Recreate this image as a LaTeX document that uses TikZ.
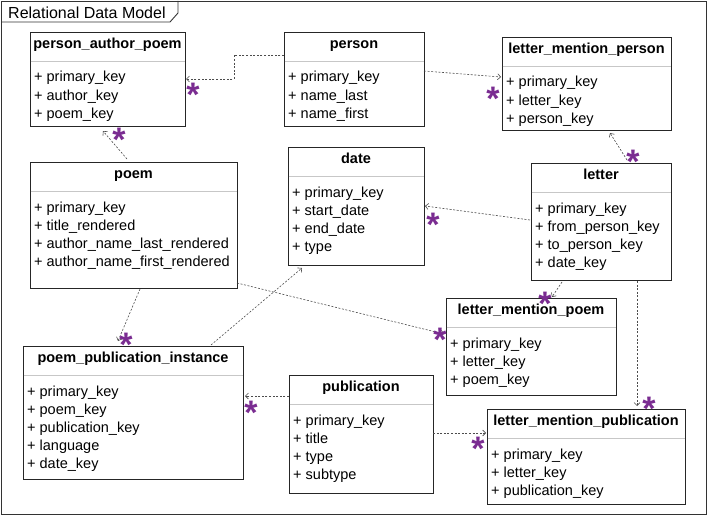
\documentclass[tikz,border=0pt]{standalone}
\usepackage{fontspec}
\setmainfont{Liberation Sans}
\usetikzlibrary{calc,arrows.meta}
\definecolor{starcol}{RGB}{122,44,145}
\tikzset{
 classbox/.style={draw=black!85, line width=0.9pt, fill=white, rectangle, inner sep=0pt, outer sep=0pt, anchor=north west},
 sepline/.style={draw=black!22, line width=0.9pt},
 classtitle/.style={font=\fontsize{14.5}{17}\selectfont\bfseries, anchor=base, inner sep=0pt},
 attr/.style={font=\fontsize{14.5}{17}\selectfont, anchor=base west, inner sep=0pt},
 conn/.style={draw=black!70, line width=0.6pt, dash pattern=on 2pt off 1.6pt, -{Straight Barb[length=3pt,width=6pt,line width=0.6pt]}},
 starmark/.style={text=starcol, font=\fontsize{34}{34}\selectfont\bfseries, anchor=base, inner sep=0pt, text height=24pt, text depth=-15pt},
 framebox/.style={draw=black!80, line width=0.9pt},
 frametitle/.style={font=\fontsize{16}{18}\selectfont, anchor=west, inner sep=0pt},
}
\newcommand\umlclass[7]{%
 \node[classbox, minimum width=#4pt, minimum height=#5pt] (#1) at (#2,#3) {};
 \draw[sepline] ($(#1.north west)+(0.5,29)$) -- ($(#1.north east)+(-0.5,29)$);
 \node[classtitle] (#1-title) at ($(#1.north)+(0,16.5)$) {#6};
 \foreach \aname [count=\ai] in {#7} {\node[attr] (#1-a\ai) at ($(#1.north west)+(4,{32+18*\ai})$) {+ \aname};}
}
\newcommand\mstar[3]{\node[starmark] (#1) at (#2,{#3+18.5}) {*};}
\begin{document}
\begin{tikzpicture}[x=1pt,y=-1pt]
\useasboundingbox (0,0) rectangle (708,516);
\draw[framebox] (1,1) rectangle (706,514);
\draw[framebox] (1,22) -- (170,22) -- (178,13) -- (178,1);
\node[frametitle] (ftitle) at (8,12.5) {Relational Data Model};

\umlclass{pap}{30}{32}{155}{94}{person\_author\_poem}{primary\_key,author\_key,poem\_key}
\umlclass{person}{284}{32}{140}{94}{person}{primary\_key,name\_last,name\_first}
\umlclass{lmperson}{502}{37}{169}{93}{letter\_mention\_person}{primary\_key,letter\_key,person\_key}
\umlclass{poem}{30}{162}{207}{126}{poem}{primary\_key,title\_rendered,author\_name\_last\_rendered,author\_name\_first\_rendered}
\umlclass{date}{288}{147}{136}{118}{date}{primary\_key,start\_date,end\_date,type}
\umlclass{letter}{531}{163}{140}{117}{letter}{primary\_key,from\_person\_key,to\_person\_key,date\_key}
\umlclass{lmpoem}{446}{298}{170}{97}{letter\_mention\_poem}{primary\_key,letter\_key,poem\_key}
\umlclass{ppi}{23}{346}{220}{133}{poem\_publication\_instance}{primary\_key,poem\_key,publication\_key,language,date\_key}
\umlclass{publication}{289}{375}{144}{118}{publication}{primary\_key,title,type,subtype}
\umlclass{lmpub}{487}{409}{198}{95}{letter\_mention\_publication}{primary\_key,letter\_key,publication\_key}

\draw[conn] ($(person.north west)+(0,23)$) -- ++(-50,0) |- ($(pap.north east)+(1,47)$);
\draw[conn] ($(person.north east)+(0,39)$) -- ($(lmperson.north west)+(-1,40)$);
\draw[conn] ($(poem.north west)+(97,-3)$) -- ($(pap.south west)+(73,5)$);
\draw[conn] ($(letter.north west)+(96,-3)$) -- ($(lmperson.south west)+(108,3)$);
\draw[conn] ($(letter.north west)+(-1,57)$) -- ($(date.north east)+(1,59)$);
\draw[conn] ($(letter.south west)+(31,2)$) -- ($(lmpoem.north west)+(106,-1)$);
\draw[conn] ($(letter.south west)+(106,1)$) -- ($(lmpub.north west)+(150,-3)$);
\draw[conn] ($(poem.south east)+(0,-5)$) -- ($(lmpoem.north west)+(-2,36)$);
\draw[conn] ($(poem.south west)+(110,1)$) -- ($(ppi.north west)+(95,-5)$);
\draw[conn] ($(ppi.north west)+(188,-1)$) -- ($(date.south west)+(14,3)$);
\draw[conn] ($(publication.north west)+(0,21)$) -- ($(ppi.north east)+(2,50)$);
\draw[conn] ($(publication.north east)+(0,58)$) -- ($(lmpub.north west)+(-1,24)$);

\mstar{s1}{193}{88}
\mstar{s2}{493}{92}
\mstar{s3}{119}{133}
\mstar{s4}{633}{155}
\mstar{s5}{433}{218}
\mstar{s6}{545}{297}
\mstar{s7}{649}{402}
\mstar{s8}{440}{333}
\mstar{s9}{126}{338}
\mstar{s10}{251}{406}
\mstar{s11}{478}{442}
\end{tikzpicture}
\end{document}
